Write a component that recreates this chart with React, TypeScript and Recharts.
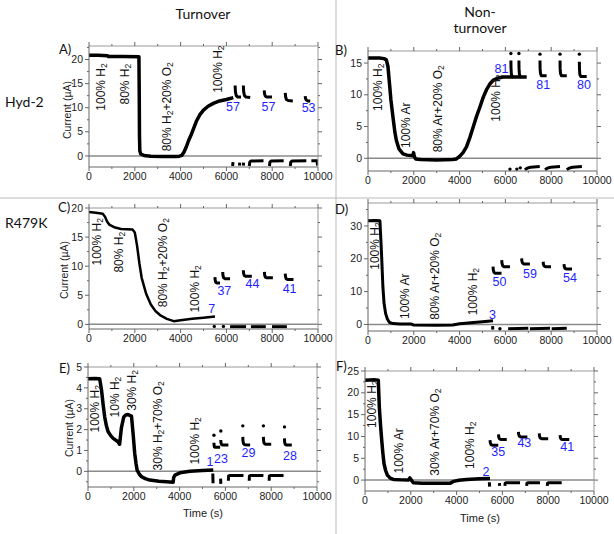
import React from 'react';
import { ComposedChart, Line, Scatter, XAxis, YAxis, ReferenceLine } from 'recharts';

type P = { x: number; y: number };
type T = { x: number; y: number; t: string };

const FONT = '"Liberation Sans", Arial, sans-serif';
const TFONT = 'Lato, "Open Sans", sans-serif';
const AX = '#666';

const xMajor = [0, 2000, 4000, 6000, 8000, 10000];
const xMinor = [1000, 3000, 5000, 7000, 9000];

// ---------- Panel A (Hyd-2, turnover) ----------
const aMain: P[] = [
  { x: 0, y: 20.9 }, { x: 400, y: 20.9 }, { x: 800, y: 20.8 }, { x: 850, y: 20.6 }, { x: 1500, y: 20.6 },
  { x: 2180, y: 20.55 }, { x: 2195, y: 12 }, { x: 2205, y: 4 }, { x: 2220, y: 1 }, { x: 2260, y: 0.4 },
  { x: 2400, y: 0.1 }, { x: 2700, y: -0.05 }, { x: 3200, y: -0.1 }, { x: 3800, y: -0.1 }, { x: 3950, y: -0.05 },
  { x: 4050, y: 0.1 }, { x: 4150, y: 0.8 }, { x: 4250, y: 1.9 }, { x: 4350, y: 3.2 }, { x: 4480, y: 4.6 },
  { x: 4600, y: 6.1 }, { x: 4700, y: 7.3 }, { x: 4850, y: 8.6 }, { x: 5000, y: 9.5 }, { x: 5200, y: 10.3 },
  { x: 5430, y: 10.9 }, { x: 5700, y: 11.4 }, { x: 6000, y: 11.7 }, { x: 6300, y: 12.1 },
];
const aHooks: P[][] = [
  [{ x: 6380, y: 14.6 }, { x: 6395, y: 13.3 }, { x: 6430, y: 12.5 }, { x: 6500, y: 12.2 }, { x: 6640, y: 12.2 }],
  [{ x: 6740, y: 14.6 }, { x: 6755, y: 13.3 }, { x: 6790, y: 12.5 }, { x: 6860, y: 12.2 }, { x: 7040, y: 12.1 }],
  [{ x: 7650, y: 13.6 }, { x: 7665, y: 12.9 }, { x: 7700, y: 12.4 }, { x: 7780, y: 12.2 }, { x: 7990, y: 12.2 }],
  [{ x: 8570, y: 13.1 }, { x: 8585, y: 12.3 }, { x: 8620, y: 11.7 }, { x: 8700, y: 11.5 }, { x: 8900, y: 11.4 }],
  [{ x: 9440, y: 12.4 }, { x: 9455, y: 11.9 }, { x: 9490, y: 11.6 }, { x: 9560, y: 11.4 }, { x: 9660, y: 11.4 }],
];
const aBase: P[][] = [
  [{ x: 6270, y: -2.1 }, { x: 6290, y: -1.3 }],
  [{ x: 6570, y: -2.0 }, { x: 6580, y: -1.4 }],
  [{ x: 6740, y: -2.0 }, { x: 6750, y: -1.4 }],
  [{ x: 7000, y: -2.1 }, { x: 7020, y: -1.3 }, { x: 7080, y: -1.05 }, { x: 7620, y: -1.0 }],
  [{ x: 7880, y: -2.1 }, { x: 7900, y: -1.3 }, { x: 7960, y: -1.05 }, { x: 8500, y: -1.0 }],
  [{ x: 8790, y: -2.1 }, { x: 8810, y: -1.3 }, { x: 8870, y: -1.05 }, { x: 9490, y: -1.0 }],
  [{ x: 9710, y: -1.0 }, { x: 9960, y: -1.0 }, { x: 9980, y: -2.0 }],
];
const aDots: P[] = [];
const aNums: T[] = [
  { x: 6290, y: 10.2, t: '57' }, { x: 7840, y: 10.2, t: '57' }, { x: 9590, y: 10.0, t: '53' },
];
const aGas: T[] = [
  { x: 540, y: 14.3, t: '100% H_2' }, { x: 1590, y: 14.9, t: '80% H_2' },
  { x: 3390, y: 10.2, t: '80% H_2+20% O_2' }, { x: 5650, y: 18.0, t: '100% H_2' },
];

// ---------- Panel B (Hyd-2, non-turnover) ----------
const bMain: P[] = [
  { x: 0, y: 15.8 }, { x: 500, y: 15.8 }, { x: 700, y: 15.7 }, { x: 800, y: 15.5 }, { x: 870, y: 14.5 },
  { x: 940, y: 11.7 }, { x: 1000, y: 9.2 }, { x: 1090, y: 6.5 }, { x: 1170, y: 4.2 }, { x: 1240, y: 2.8 },
  { x: 1350, y: 1.5 }, { x: 1530, y: 0.7 }, { x: 1700, y: 0.5 }, { x: 1960, y: 0.4 }, { x: 1990, y: 0.9 },
  { x: 2020, y: 0.3 }, { x: 2080, y: -0.1 }, { x: 2300, y: -0.2 }, { x: 3000, y: -0.25 }, { x: 3700, y: -0.2 },
  { x: 3860, y: -0.1 }, { x: 4000, y: 0.3 }, { x: 4150, y: 0.9 }, { x: 4300, y: 1.8 }, { x: 4450, y: 3.3 },
  { x: 4590, y: 4.9 }, { x: 4740, y: 6.6 }, { x: 4880, y: 8.0 }, { x: 5030, y: 9.6 }, { x: 5175, y: 10.8 },
  { x: 5320, y: 11.7 }, { x: 5470, y: 12.3 }, { x: 5650, y: 12.6 }, { x: 5900, y: 12.8 }, { x: 6930, y: 12.8 },
];
const bHooks: P[][] = [
  [{ x: 6240, y: 15.4 }, { x: 6245, y: 14.2 }, { x: 6260, y: 13.3 }, { x: 6290, y: 12.9 }, { x: 6350, y: 12.8 }],
  [{ x: 6590, y: 15.4 }, { x: 6595, y: 14.2 }, { x: 6610, y: 13.3 }, { x: 6640, y: 12.9 }, { x: 6700, y: 12.8 }],
  [{ x: 7510, y: 15.4 }, { x: 7515, y: 14.2 }, { x: 7530, y: 13.4 }, { x: 7570, y: 13.0 }, { x: 7800, y: 13.0 }],
  [{ x: 8385, y: 15.4 }, { x: 8390, y: 14.2 }, { x: 8405, y: 13.4 }, { x: 8445, y: 13.0 }, { x: 8680, y: 13.0 }],
  [{ x: 9230, y: 15.2 }, { x: 9235, y: 14.0 }, { x: 9250, y: 13.2 }, { x: 9290, y: 12.9 }, { x: 9550, y: 12.9 }],
];
const bBase: P[][] = [
  [{ x: 6850, y: -1.8 }, { x: 6950, y: -1.55 }, { x: 7100, y: -1.4 }, { x: 7500, y: -1.3 }],
  [{ x: 7730, y: -1.8 }, { x: 7830, y: -1.55 }, { x: 7980, y: -1.4 }, { x: 8385, y: -1.3 }],
  [{ x: 8680, y: -1.8 }, { x: 8780, y: -1.55 }, { x: 8930, y: -1.4 }, { x: 9340, y: -1.3 }],
];
const bDots: P[] = [
  { x: 6240, y: 16.5 }, { x: 6590, y: 16.5 }, { x: 7510, y: 16.4 }, { x: 8385, y: 16.4 }, { x: 9230, y: 16.4 },
  { x: 6200, y: -1.7 }, { x: 6500, y: -1.7 }, { x: 6650, y: -1.5 },
];
const bNums: T[] = [
  { x: 5830, y: 14.1, t: '81' }, { x: 7650, y: 11.5, t: '81' }, { x: 9430, y: 11.5, t: '80' },
];
const bGas: T[] = [
  { x: 430, y: 11.2, t: '100% H_2' }, { x: 1670, y: 5.2, t: '100% Ar' },
  { x: 3060, y: 7.8, t: '80% Ar+20% O_2' }, { x: 5610, y: 9.5, t: '100% H_2' },
];

// ---------- Panel C (R479K, turnover) ----------
const cMain: P[] = [
  { x: 0, y: 19.3 }, { x: 300, y: 19.2 }, { x: 600, y: 19.0 }, { x: 700, y: 18.5 }, { x: 800, y: 17.6 },
  { x: 900, y: 17.1 }, { x: 1100, y: 16.7 }, { x: 1400, y: 16.4 }, { x: 1900, y: 16.3 }, { x: 2000, y: 15.8 },
  { x: 2100, y: 13.5 }, { x: 2200, y: 10.5 }, { x: 2300, y: 8.0 }, { x: 2500, y: 5.2 }, { x: 2700, y: 3.4 },
  { x: 2900, y: 2.3 }, { x: 3100, y: 1.6 }, { x: 3400, y: 0.95 }, { x: 3700, y: 0.55 }, { x: 4000, y: 0.7 },
  { x: 4500, y: 0.95 }, { x: 5000, y: 1.15 }, { x: 5500, y: 1.35 },
];
const cHooks: P[][] = [
  [{ x: 5500, y: 8.1 }, { x: 5510, y: 7.6 }, { x: 5540, y: 7.2 }, { x: 5600, y: 7.1 }, { x: 5720, y: 7.1 }],
  [{ x: 5840, y: 9.0 }, { x: 5850, y: 8.4 }, { x: 5880, y: 8.0 }, { x: 5940, y: 7.85 }, { x: 6160, y: 7.85 }],
  [{ x: 6740, y: 9.3 }, { x: 6750, y: 8.8 }, { x: 6780, y: 8.4 }, { x: 6840, y: 8.25 }, { x: 7110, y: 8.25 }],
  [{ x: 7660, y: 9.0 }, { x: 7670, y: 8.5 }, { x: 7700, y: 8.1 }, { x: 7760, y: 8.0 }, { x: 8030, y: 8.0 }],
  [{ x: 8570, y: 8.7 }, { x: 8580, y: 8.2 }, { x: 8610, y: 7.85 }, { x: 8670, y: 7.7 }, { x: 8930, y: 7.7 }],
];
const cBase: P[][] = [
  [{ x: 6160, y: -0.4 }, { x: 6860, y: -0.4 }],
  [{ x: 7070, y: -0.4 }, { x: 7720, y: -0.4 }],
  [{ x: 7990, y: -0.4 }, { x: 8640, y: -0.4 }],
];
const cDots: P[] = [{ x: 5470, y: -0.35 }, { x: 5870, y: -0.35 }];
const cNums: T[] = [
  { x: 5360, y: 2.7, t: '7' }, { x: 5910, y: 5.7, t: '37' }, { x: 7140, y: 6.9, t: '44' }, { x: 8760, y: 6.1, t: '41' },
];
const cGas: T[] = [
  { x: 350, y: 14.2, t: '100% H_2' }, { x: 1300, y: 12.4, t: '80% H_2' },
  { x: 3240, y: 10.6, t: '80% H_2+20% O_2' }, { x: 4630, y: 6.1, t: '100% H_2' },
];

// ---------- Panel D (R479K, non-turnover) ----------
const dMain: P[] = [
  { x: 0, y: 31.6 }, { x: 300, y: 31.7 }, { x: 520, y: 31.6 }, { x: 560, y: 26 }, { x: 600, y: 20 },
  { x: 650, y: 11.5 }, { x: 700, y: 6.5 }, { x: 770, y: 3.3 }, { x: 850, y: 1.6 }, { x: 940, y: 0.6 },
  { x: 1100, y: 0.25 }, { x: 1400, y: 0.1 }, { x: 1900, y: 0.1 }, { x: 2000, y: -0.2 }, { x: 3000, y: -0.25 },
  { x: 3700, y: -0.2 }, { x: 4000, y: 0.2 }, { x: 4500, y: 0.5 }, { x: 5000, y: 0.8 }, { x: 5460, y: 1.1 },
];
const dHooks: P[][] = [
  [{ x: 5460, y: 17.6 }, { x: 5470, y: 16.7 }, { x: 5500, y: 15.9 }, { x: 5560, y: 15.6 }, { x: 5830, y: 15.6 }],
  [{ x: 5840, y: 19.6 }, { x: 5850, y: 18.7 }, { x: 5880, y: 17.9 }, { x: 5940, y: 17.6 }, { x: 6200, y: 17.6 }],
  [{ x: 6710, y: 20.1 }, { x: 6720, y: 19.3 }, { x: 6750, y: 18.7 }, { x: 6810, y: 18.4 }, { x: 7070, y: 18.4 }],
  [{ x: 7650, y: 19.1 }, { x: 7660, y: 18.3 }, { x: 7690, y: 17.8 }, { x: 7750, y: 17.6 }, { x: 7990, y: 17.6 }],
  [{ x: 8560, y: 18.4 }, { x: 8570, y: 17.6 }, { x: 8600, y: 17.1 }, { x: 8660, y: 16.9 }, { x: 8910, y: 16.9 }],
];
const dBase: P[][] = [
  [{ x: 5440, y: -0.5 }, { x: 5450, y: -1.6 }],
  [{ x: 6120, y: -1.3 }, { x: 7000, y: -1.2 }],
  [{ x: 7070, y: -1.3 }, { x: 7950, y: -1.2 }],
  [{ x: 8020, y: -1.3 }, { x: 8680, y: -1.2 }],
];
const dDots: P[] = [{ x: 5760, y: -1.3 }];
const dNums: T[] = [
  { x: 5440, y: 2.8, t: '3' }, { x: 5740, y: 13.0, t: '50' }, { x: 7070, y: 15.3, t: '59' }, { x: 8820, y: 14.3, t: '54' },
];
const dGas: T[] = [
  { x: 285, y: 23.9, t: '100% H_2' }, { x: 1600, y: 8.6, t: '100% Ar' },
  { x: 2910, y: 14.7, t: '80% Ar+20% O_2' }, { x: 4590, y: 10.0, t: '100% H_2' },
];

// ---------- Panel E (R479K, turnover, low H2) ----------
const eMain: P[] = [
  { x: 0, y: 4.44 }, { x: 300, y: 4.45 }, { x: 510, y: 4.44 }, { x: 590, y: 3.9 }, { x: 660, y: 3.2 },
  { x: 730, y: 2.6 }, { x: 800, y: 2.2 }, { x: 880, y: 1.9 }, { x: 1000, y: 1.7 }, { x: 1100, y: 1.58 },
  { x: 1310, y: 1.42 }, { x: 1380, y: 1.3 }, { x: 1420, y: 1.7 }, { x: 1460, y: 2.1 }, { x: 1560, y: 2.6 },
  { x: 1650, y: 2.7 }, { x: 1750, y: 2.72 }, { x: 1900, y: 2.65 }, { x: 1970, y: 1.8 }, { x: 2040, y: 0.86 },
  { x: 2100, y: 0.35 }, { x: 2145, y: 0.06 }, { x: 2250, y: -0.15 }, { x: 2340, y: -0.26 }, { x: 2500, y: -0.35 },
  { x: 2700, y: -0.42 }, { x: 3100, y: -0.47 }, { x: 3430, y: -0.5 }, { x: 3720, y: -0.52 }, { x: 3740, y: -0.3 },
  { x: 3800, y: -0.18 }, { x: 4015, y: -0.07 }, { x: 4450, y: 0.0 }, { x: 5000, y: 0.04 }, { x: 5470, y: 0.07 },
];
const eHooks: P[][] = [
  [{ x: 5500, y: 1.37 }, { x: 5505, y: 1.25 }, { x: 5520, y: 1.17 }, { x: 5560, y: 1.15 }, { x: 5770, y: 1.15 }],
  [{ x: 5800, y: 1.5 }, { x: 5805, y: 1.38 }, { x: 5825, y: 1.3 }, { x: 5870, y: 1.26 }, { x: 6130, y: 1.26 }],
  [{ x: 6760, y: 1.65 }, { x: 6765, y: 1.48 }, { x: 6790, y: 1.33 }, { x: 6840, y: 1.27 }, { x: 7080, y: 1.26 }],
  [{ x: 7660, y: 1.65 }, { x: 7665, y: 1.48 }, { x: 7690, y: 1.35 }, { x: 7740, y: 1.3 }, { x: 8000, y: 1.3 }],
  [{ x: 8580, y: 1.58 }, { x: 8585, y: 1.42 }, { x: 8610, y: 1.3 }, { x: 8660, y: 1.26 }, { x: 8900, y: 1.26 }],
];
const eBase: P[][] = [
  [{ x: 5450, y: -0.1 }, { x: 5460, y: -0.57 }],
  [{ x: 5790, y: -0.35 }, { x: 5800, y: -0.6 }],
  [{ x: 6130, y: -0.45 }, { x: 6140, y: -0.22 }, { x: 6200, y: -0.2 }, { x: 6790, y: -0.2 }],
  [{ x: 7040, y: -0.45 }, { x: 7050, y: -0.22 }, { x: 7110, y: -0.2 }, { x: 7660, y: -0.2 }],
  [{ x: 7910, y: -0.45 }, { x: 7920, y: -0.22 }, { x: 7980, y: -0.2 }, { x: 8540, y: -0.2 }],
];
const eDots: P[] = [
  { x: 5500, y: 1.73 }, { x: 5800, y: 1.93 }, { x: 6760, y: 2.18 }, { x: 7660, y: 2.18 }, { x: 8580, y: 2.13 },
];
const eNums: T[] = [
  { x: 5330, y: 0.46, t: '1' }, { x: 5810, y: 0.57, t: '23' }, { x: 7010, y: 0.86, t: '29' }, { x: 8820, y: 0.73, t: '28' },
];
const eGas: T[] = [
  { x: 320, y: 3.0, t: '100% H_2' }, { x: 1200, y: 3.56, t: '10% H_2' }, { x: 1930, y: 3.88, t: '30% H_2' },
  { x: 3070, y: 2.18, t: '30% H_2+70% O_2' }, { x: 4670, y: 1.46, t: '100% H_2' },
];

// ---------- Panel F (R479K, non-turnover) ----------
const fMain: P[] = [
  { x: 0, y: 22.9 }, { x: 400, y: 23.0 }, { x: 580, y: 22.9 }, { x: 625, y: 16.8 }, { x: 680, y: 12.5 },
  { x: 730, y: 9.15 }, { x: 780, y: 6.2 }, { x: 830, y: 3.8 }, { x: 900, y: 2.2 }, { x: 975, y: 1.15 },
  { x: 1100, y: 0.45 }, { x: 1240, y: 0.15 }, { x: 1600, y: 0.05 }, { x: 1900, y: 0.0 }, { x: 1960, y: 0.5 },
  { x: 2010, y: 0.1 }, { x: 2110, y: -0.6 }, { x: 2500, y: -0.7 }, { x: 3000, y: -0.75 }, { x: 3710, y: -0.75 },
  { x: 3860, y: -0.3 }, { x: 4100, y: -0.05 }, { x: 4440, y: 0.15 }, { x: 5000, y: 0.3 }, { x: 5460, y: 0.38 },
];
const fHooks: P[][] = [
  [{ x: 5460, y: 9.15 }, { x: 5470, y: 8.6 }, { x: 5500, y: 8.15 }, { x: 5560, y: 8.0 }, { x: 5820, y: 8.0 }],
  [{ x: 5830, y: 10.5 }, { x: 5840, y: 9.9 }, { x: 5870, y: 9.45 }, { x: 5930, y: 9.3 }, { x: 6190, y: 9.3 }],
  [{ x: 6700, y: 11.05 }, { x: 6710, y: 10.5 }, { x: 6740, y: 10.05 }, { x: 6800, y: 9.9 }, { x: 7090, y: 9.9 }],
  [{ x: 7610, y: 10.7 }, { x: 7620, y: 10.1 }, { x: 7650, y: 9.65 }, { x: 7710, y: 9.5 }, { x: 8000, y: 9.5 }],
  [{ x: 8520, y: 10.3 }, { x: 8530, y: 9.8 }, { x: 8560, y: 9.4 }, { x: 8620, y: 9.3 }, { x: 8920, y: 9.3 }],
];
const fBase: P[][] = [
  [{ x: 5430, y: -0.5 }, { x: 5440, y: -1.5 }],
  [{ x: 5870, y: -0.7 }, { x: 5880, y: -1.3 }],
  [{ x: 6110, y: -1.3 }, { x: 6120, y: -0.7 }, { x: 6180, y: -0.6 }, { x: 6770, y: -0.6 }],
  [{ x: 7060, y: -1.3 }, { x: 7070, y: -0.7 }, { x: 7130, y: -0.6 }, { x: 7640, y: -0.6 }],
  [{ x: 7960, y: -1.3 }, { x: 7970, y: -0.7 }, { x: 8030, y: -0.6 }, { x: 8590, y: -0.6 }],
];
const fDots: P[] = [];
const fNums: T[] = [
  { x: 5280, y: 1.9, t: '2' }, { x: 5820, y: 6.5, t: '35' }, { x: 6960, y: 8.4, t: '43' }, { x: 8830, y: 7.6, t: '41' },
];
const fGas: T[] = [
  { x: 320, y: 17.4, t: '100% H_2' }, { x: 1480, y: 6.7, t: '100% Ar' },
  { x: 3060, y: 11.0, t: '30% Ar+70% O_2' }, { x: 4590, y: 8.0, t: '100% H_2' },
];

// ---------- tick renderers ----------
const isIn = (arr: number[], v: number) => arr.some((a) => Math.abs(a - v) < 1e-6);

const makeBottomTick = (majors: number[]) => (props: any) => {
  const { x, y, payload } = props;
  const major = isIn(majors, payload.value);
  return (
    <g>
      <line x1={x} x2={x} y1={y} y2={y + (major ? 4 : 2)} stroke={AX} />
      {major && (
        <text x={x} y={y + 5} dy="0.75em" textAnchor="middle" fontSize={10.5} fill="#222" fontFamily={FONT}>
          {payload.value}
        </text>
      )}
    </g>
  );
};
const makeTopTick = (majors: number[]) => (props: any) => {
  const { x, y, payload } = props;
  const major = isIn(majors, payload.value);
  return <line x1={x} x2={x} y1={y} y2={y - (major ? 4 : 2)} stroke={AX} />;
};
const makeLeftTick = (majors: number[]) => (props: any) => {
  const { x, y, payload } = props;
  const major = isIn(majors, payload.value);
  return (
    <g>
      <line x1={x} x2={x - (major ? 4 : 2)} y1={y} y2={y} stroke={AX} />
      {major && (
        <text x={x - 6} y={y} dy="0.35em" textAnchor="end" fontSize={10.5} fill="#222" fontFamily={FONT}>
          {payload.value}
        </text>
      )}
    </g>
  );
};
const makeRightTick = (majors: number[]) => (props: any) => {
  const { x, y, payload } = props;
  const major = isIn(majors, payload.value);
  return <line x1={x} x2={x + (major ? 4 : 2)} y1={y} y2={y} stroke={AX} />;
};

// ---------- label shapes ----------
const GasShape = (props: any) => {
  const { cx, cy, payload } = props;
  const parts: string[] = String(payload.t).split('_');
  const kids: any[] = [];
  parts.forEach((p, i) => {
    if (i === 0) kids.push(<tspan key={'a' + i}>{p}</tspan>);
    else {
      kids.push(<tspan key={'s' + i} fontSize={8.5} dy={3}>{p[0]}</tspan>);
      if (p.length > 1) kids.push(<tspan key={'r' + i} dy={-3}>{p.slice(1)}</tspan>);
    }
  });
  return (
    <text x={cx} y={cy} transform={`rotate(-90 ${cx} ${cy})`} textAnchor="middle" dominantBaseline="central"
      fontSize={12} fill="#111" fontFamily={FONT}>
      {kids}
    </text>
  );
};
const NumShape = (props: any) => {
  const { cx, cy, payload } = props;
  return (
    <text x={cx} y={cy} textAnchor="middle" dominantBaseline="central" fontSize={12.5} fill="#1f1fff" fontFamily={FONT}>
      {payload.t}
    </text>
  );
};
const DotShape = (props: any) => <circle cx={props.cx} cy={props.cy} r={1.7} fill="#000" />;

type PanelCfg = {
  l: number; t: number; w: number; h: number;
  yDomain: [number, number]; yMajor: number[]; yMinor: number[];
  main: P[]; hooks: P[][]; base: P[][]; dots: P[]; nums: T[]; gas: T[]; mainWidth: number;
};

const Panel = ({ cfg }: { cfg: PanelCfg }) => {
  const padL = 40, padR = 24, padT = 10, padB = 22;
  const W = cfg.w + padL + padR;
  const H = cfg.h + padT + padB;
  const yTicks = [...cfg.yMajor, ...cfg.yMinor].filter((v) => v >= cfg.yDomain[0] && v <= cfg.yDomain[1]).sort((a, b) => a - b);
  const xTicks = [...xMajor, ...xMinor].sort((a, b) => a - b);
  return (
    <div style={{ position: 'absolute', left: cfg.l - padL, top: cfg.t - padT }}>
      <ComposedChart width={W} height={H} margin={{ top: 4, right: padR - 8, bottom: 2, left: 10 }}>
        <XAxis xAxisId="b" dataKey="x" type="number" domain={[0, 10000]} allowDataOverflow ticks={xTicks}
          interval={0} height={20} tickSize={0} tickMargin={0} tickLine={false} axisLine={{ stroke: AX }}
          tick={makeBottomTick(xMajor)} />
        <XAxis xAxisId="t" orientation="top" dataKey="x" type="number" domain={[0, 10000]} allowDataOverflow ticks={xTicks}
          interval={0} height={6} tickSize={0} tickMargin={0} tickLine={false} axisLine={{ stroke: '#999' }}
          tick={makeTopTick(xMajor)} />
        <YAxis yAxisId="l" type="number" domain={cfg.yDomain} allowDataOverflow ticks={yTicks} interval={0}
          width={30} tickSize={0} tickMargin={0} tickLine={false} axisLine={{ stroke: AX }}
          tick={makeLeftTick(cfg.yMajor)} />
        <YAxis yAxisId="r" orientation="right" type="number" domain={cfg.yDomain} allowDataOverflow ticks={yTicks}
          interval={0} width={8} tickSize={0} tickMargin={0} tickLine={false} axisLine={{ stroke: '#999' }}
          tick={makeRightTick(cfg.yMajor)} />
        <ReferenceLine xAxisId="b" yAxisId="l" y={0} stroke="#8a8a8a" strokeWidth={1.5} />
        <Line xAxisId="b" yAxisId="l" data={cfg.main} dataKey="y" stroke="#000" strokeWidth={cfg.mainWidth}
          dot={false} isAnimationActive={false} strokeLinejoin="round" />
        {cfg.hooks.map((s, i) => (
          <Line key={'h' + i} xAxisId="b" yAxisId="l" data={s} dataKey="y" stroke="#000" strokeWidth={3}
            dot={false} isAnimationActive={false} strokeLinejoin="round" />
        ))}
        {cfg.base.map((s, i) => (
          <Line key={'b' + i} xAxisId="b" yAxisId="l" data={s} dataKey="y" stroke="#000" strokeWidth={3}
            dot={false} isAnimationActive={false} strokeLinejoin="round" />
        ))}
        <Scatter xAxisId="b" yAxisId="l" data={cfg.dots} dataKey="y" shape={DotShape} isAnimationActive={false} />
        <Scatter xAxisId="b" yAxisId="l" data={cfg.gas} dataKey="y" shape={GasShape} isAnimationActive={false} />
        <Scatter xAxisId="b" yAxisId="l" data={cfg.nums} dataKey="y" shape={NumShape} isAnimationActive={false} />
      </ComposedChart>
    </div>
  );
};

const panels: PanelCfg[] = [
  { l: 89, t: 46, w: 229, h: 121, yDomain: [-2.3, 22.8], yMajor: [0, 5, 10, 15, 20], yMinor: [2.5, 7.5, 12.5, 17.5, 22.5],
    main: aMain, hooks: aHooks, base: aBase, dots: aDots, nums: aNums, gas: aGas, mainWidth: 3.5 },
  { l: 368, t: 51, w: 229, h: 120, yDomain: [-2, 16.9], yMajor: [0, 5, 10, 15], yMinor: [2.5, 7.5, 12.5],
    main: bMain, hooks: bHooks, base: bBase, dots: bDots, nums: bNums, gas: bGas, mainWidth: 3.5 },
  { l: 89, t: 208, w: 229, h: 121, yDomain: [-0.8, 20], yMajor: [0, 5, 10, 15, 20], yMinor: [2.5, 7.5, 12.5, 17.5],
    main: cMain, hooks: cHooks, base: cBase, dots: cDots, nums: cNums, gas: cGas, mainWidth: 2.5 },
  { l: 368, t: 203, w: 229, h: 128, yDomain: [-2, 37], yMajor: [0, 10, 20, 30], yMinor: [5, 15, 25, 35],
    main: dMain, hooks: dHooks, base: dBase, dots: dDots, nums: dNums, gas: dGas, mainWidth: 3 },
  { l: 88, t: 367, w: 229, h: 120, yDomain: [-0.75, 5], yMajor: [0, 1, 2, 3, 4, 5], yMinor: [-0.5, 0.5, 1.5, 2.5, 3.5, 4.5],
    main: eMain, hooks: eHooks, base: eBase, dots: eDots, nums: eNums, gas: eGas, mainWidth: 3.5 },
  { l: 365, t: 371, w: 229, h: 120, yDomain: [-2.5, 25], yMajor: [0, 5, 10, 15, 20, 25], yMinor: [2.5, 7.5, 12.5, 17.5, 22.5],
    main: fMain, hooks: fHooks, base: fBase, dots: fDots, nums: fNums, gas: fGas, mainWidth: 3.5 },
];

const letters = [
  { t: 'A)', x: 59, y: 49 }, { t: 'B)', x: 335, y: 50 }, { t: 'C)', x: 58, y: 207 },
  { t: 'D)', x: 335, y: 209 }, { t: 'E)', x: 59, y: 368 }, { t: 'F)', x: 336, y: 366 },
];
const yTitles = [{ x: 67, y: 110 }, { x: 64, y: 270 }, { x: 69, y: 428 }];
const xTitles = [{ x: 203, y: 513 }, { x: 480, y: 518 }];

export default function App() {
  return (
    <div style={{ position: 'absolute', left: 0, top: 0, width: 614, height: 534, background: '#fff', overflow: 'hidden' }}>
      {panels.map((p, i) => <Panel key={i} cfg={p} />)}
      <svg width={614} height={534} style={{ position: 'absolute', left: 0, top: 0, pointerEvents: 'none' }}>
        <line x1={336} x2={336} y1={0} y2={534} stroke="#bbb" strokeWidth={1} />
        <line x1={0} x2={614} y1={198} y2={198} stroke="#bbb" strokeWidth={1} />
        <text x={203} y={13} textAnchor="middle" dominantBaseline="central" fontSize={14} fontFamily={TFONT} fill="#111">Turnover</text>
        <text x={480} y={11} textAnchor="middle" dominantBaseline="central" fontSize={14} fontFamily={TFONT} fill="#111">Non-</text>
        <text x={480} y={27} textAnchor="middle" dominantBaseline="central" fontSize={14} fontFamily={TFONT} fill="#111">turnover</text>
        <text x={5} y={101} dominantBaseline="central" fontSize={14} fontFamily={TFONT} fill="#111">Hyd-2</text>
        <text x={5} y={222} dominantBaseline="central" fontSize={14} fontFamily={TFONT} fill="#111">R479K</text>
        {letters.map((l, i) => (
          <text key={i} x={l.x} y={l.y} dominantBaseline="central" fontSize={13} fontFamily={TFONT} fill="#111">{l.t}</text>
        ))}
        {yTitles.map((t, i) => (
          <text key={i} x={t.x} y={t.y} transform={`rotate(-90 ${t.x} ${t.y})`} textAnchor="middle" dominantBaseline="central"
            fontSize={10.5} fontFamily={FONT} fill="#222">Current (µA)</text>
        ))}
        {xTitles.map((t, i) => (
          <text key={i} x={t.x} y={t.y} textAnchor="middle" dominantBaseline="central" fontSize={11} fontFamily={FONT} fill="#222">Time (s)</text>
        ))}
      </svg>
    </div>
  );
}
